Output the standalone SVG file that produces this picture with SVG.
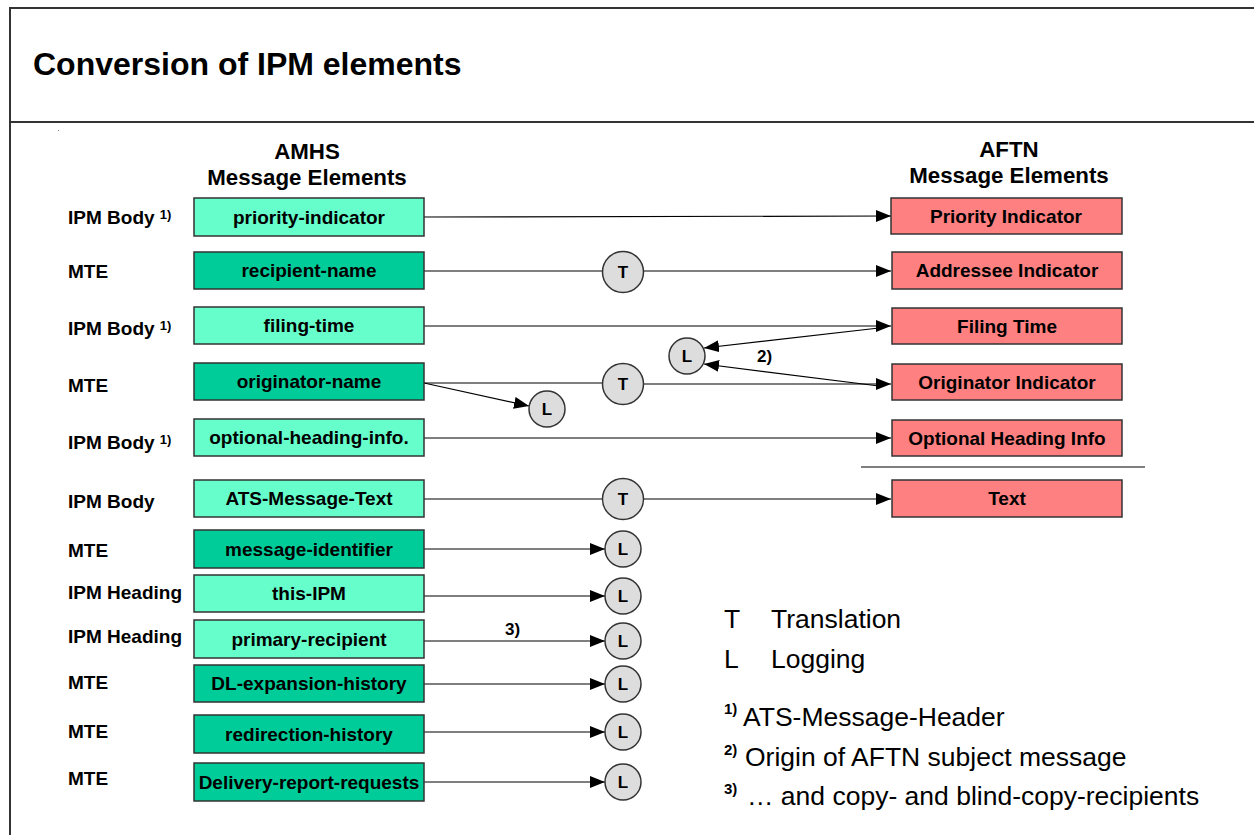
<svg xmlns="http://www.w3.org/2000/svg" width="1254" height="835" viewBox="0 0 1254 835">
<style>
.b{font-family:"Liberation Sans",Arial,sans-serif;font-weight:bold;fill:#000}
.n{font-family:"Liberation Sans",Arial,sans-serif;fill:#000}
.lab{font-size:19px}
.box{stroke:#333;stroke-width:1.5}
.lt{fill:#66FFCC}
.dk{fill:#00CC99}
.rd{fill:#FF8080}
.c{fill:#DDDDDD;stroke:#333;stroke-width:1.5}
.ln{stroke:#000;stroke-width:1.2;fill:none}
.lg{font-size:26.5px}
</style>
<defs>
<marker id="ah" markerUnits="userSpaceOnUse" markerWidth="16" markerHeight="12" refX="15" refY="6" orient="auto">
<path d="M0,0 L15,6 L0,12 Z" fill="#000"/>
</marker>
</defs>
<rect x="0" y="0" width="1254" height="835" fill="#fff"/>
<rect x="10" y="8" width="1260" height="840" fill="none" stroke="#333" stroke-width="2"/>
<line x1="10" y1="122" x2="1254" y2="122" stroke="#333" stroke-width="2"/>
<text class="b" x="33" y="75" font-size="32">Conversion of IPM elements</text>
<rect x="58" y="130" width="1" height="1" fill="#888"/>

<text class="b" x="307" y="159" font-size="22.3" text-anchor="middle">AMHS</text>
<text class="b" x="307" y="185" font-size="22.3" text-anchor="middle">Message Elements</text>
<text class="b" x="1009" y="157" font-size="22.3" text-anchor="middle">AFTN</text>
<text class="b" x="1009" y="183" font-size="22.3" text-anchor="middle">Message Elements</text>

<g id="row-labels" class="b lab">
<text x="68" y="224">IPM Body <tspan font-size="13" dy="-5">1)</tspan></text>
<text x="68" y="278">MTE</text>
<text x="68" y="335">IPM Body <tspan font-size="13" dy="-5">1)</tspan></text>
<text x="68" y="392">MTE</text>
<text x="68" y="449">IPM Body <tspan font-size="13" dy="-5">1)</tspan></text>
<text x="68" y="508">IPM Body</text>
<text x="68" y="557">MTE</text>
<text x="68" y="599">IPM Heading</text>
<text x="68" y="643">IPM Heading</text>
<text x="68" y="689">MTE</text>
<text x="68" y="738">MTE</text>
<text x="68" y="785">MTE</text>
</g>

<g id="connectors">
<line class="ln" x1="424" y1="217" x2="891" y2="216" marker-end="url(#ah)"/>
<line class="ln" x1="424" y1="271" x2="602" y2="271"/>
<line class="ln" x1="644" y1="271" x2="891" y2="271" marker-end="url(#ah)"/>
<line class="ln" x1="424" y1="326" x2="891" y2="326" marker-end="url(#ah)"/>
<line class="ln" x1="879" y1="328" x2="704" y2="348" marker-end="url(#ah)"/>
<line class="ln" x1="879" y1="386" x2="704" y2="364" marker-end="url(#ah)"/>
<line class="ln" x1="424" y1="383" x2="602" y2="383"/>
<line class="ln" x1="644" y1="384" x2="891" y2="384" marker-end="url(#ah)"/>
<line class="ln" x1="424" y1="383" x2="529" y2="406" marker-end="url(#ah)"/>
<line class="ln" x1="424" y1="438" x2="891" y2="438" marker-end="url(#ah)"/>
<line class="ln" x1="424" y1="499" x2="602" y2="499"/>
<line class="ln" x1="644" y1="499" x2="891" y2="499" marker-end="url(#ah)"/>
<line class="ln" x1="424" y1="549" x2="605" y2="549" marker-end="url(#ah)"/>
<line class="ln" x1="424" y1="596" x2="605" y2="596" marker-end="url(#ah)"/>
<line class="ln" x1="424" y1="641" x2="605" y2="641" marker-end="url(#ah)"/>
<line class="ln" x1="424" y1="684" x2="605" y2="684" marker-end="url(#ah)"/>
<line class="ln" x1="424" y1="732" x2="605" y2="732" marker-end="url(#ah)"/>
<line class="ln" x1="424" y1="782" x2="605" y2="782" marker-end="url(#ah)"/>
<text class="b" x="757" y="362" font-size="17">2)</text>
<text class="b" x="505" y="635" font-size="17">3)</text>
</g>
<line x1="861" y1="467" x2="1145" y2="467" stroke="#555" stroke-width="1.5"/>

<g id="n-priority-indicator"><rect class="box lt" x="194" y="198" width="230" height="38"/><text class="b lab" x="309" y="224" text-anchor="middle">priority-indicator</text></g>
<g id="n-recipient-name"><rect class="box dk" x="194" y="252" width="230" height="37"/><text class="b lab" x="309" y="277" text-anchor="middle">recipient-name</text></g>
<g id="n-filing-time"><rect class="box lt" x="194" y="307" width="230" height="37"/><text class="b lab" x="309" y="332" text-anchor="middle">filing-time</text></g>
<g id="n-originator-name"><rect class="box dk" x="194" y="363" width="230" height="37"/><text class="b lab" x="309" y="388" text-anchor="middle">originator-name</text></g>
<g id="n-optional-heading-info"><rect class="box lt" x="194" y="419" width="230" height="37"/><text class="b lab" x="309" y="444" text-anchor="middle">optional-heading-info.</text></g>
<g id="n-ats-message-text"><rect class="box lt" x="194" y="480" width="230" height="37"/><text class="b lab" x="309" y="505" text-anchor="middle">ATS-Message-Text</text></g>
<g id="n-message-identifier"><rect class="box dk" x="194" y="530" width="230" height="38"/><text class="b lab" x="309" y="556" text-anchor="middle">message-identifier</text></g>
<g id="n-this-ipm"><rect class="box lt" x="194" y="575" width="230" height="37"/><text class="b lab" x="309" y="600" text-anchor="middle">this-IPM</text></g>
<g id="n-primary-recipient"><rect class="box lt" x="194" y="620" width="230" height="38"/><text class="b lab" x="309" y="646" text-anchor="middle">primary-recipient</text></g>
<g id="n-dl-expansion-history"><rect class="box dk" x="194" y="665" width="230" height="37"/><text class="b lab" x="309" y="690" text-anchor="middle">DL-expansion-history</text></g>
<g id="n-redirection-history"><rect class="box dk" x="194" y="715" width="230" height="38"/><text class="b lab" x="309" y="741" text-anchor="middle">redirection-history</text></g>
<g id="n-delivery-report-requests"><rect class="box dk" x="194" y="763" width="230" height="38"/><text class="b lab" x="309" y="789" text-anchor="middle">Delivery-report-requests</text></g>

<g id="n-priority-indicator-aftn"><rect class="box rd" x="891" y="198" width="231" height="36"/><text class="b lab" x="1006" y="223" text-anchor="middle">Priority Indicator</text></g>
<g id="n-addressee-indicator"><rect class="box rd" x="892" y="252" width="230" height="37"/><text class="b lab" x="1007" y="277" text-anchor="middle">Addressee Indicator</text></g>
<g id="n-filing-time-aftn"><rect class="box rd" x="892" y="308" width="230" height="36"/><text class="b lab" x="1007" y="333" text-anchor="middle">Filing Time</text></g>
<g id="n-originator-indicator"><rect class="box rd" x="892" y="364" width="230" height="36"/><text class="b lab" x="1007" y="389" text-anchor="middle">Originator Indicator</text></g>
<g id="n-optional-heading-info-aftn"><rect class="box rd" x="892" y="420" width="230" height="36"/><text class="b lab" x="1007" y="445" text-anchor="middle">Optional Heading Info</text></g>
<g id="n-text"><rect class="box rd" x="892" y="480" width="230" height="37"/><text class="b lab" x="1007" y="505" text-anchor="middle">Text</text></g>

<g id="c-t1"><circle class="c" cx="623" cy="272" r="20.5"/><text class="b" x="623" y="278" font-size="17" text-anchor="middle">T</text></g>
<g id="c-t2"><circle class="c" cx="623" cy="384" r="20.5"/><text class="b" x="623" y="390" font-size="17" text-anchor="middle">T</text></g>
<g id="c-t3"><circle class="c" cx="623" cy="499" r="20.5"/><text class="b" x="623" y="505" font-size="17" text-anchor="middle">T</text></g>
<g id="c-l-origin"><circle class="c" cx="687" cy="356" r="18"/><text class="b" x="687" y="362" font-size="17" text-anchor="middle">L</text></g>
<g id="c-l-orig"><circle class="c" cx="547" cy="409" r="18"/><text class="b" x="547" y="415" font-size="17" text-anchor="middle">L</text></g>
<g id="c-l1"><circle class="c" cx="623" cy="549" r="18"/><text class="b" x="623" y="555" font-size="17" text-anchor="middle">L</text></g>
<g id="c-l2"><circle class="c" cx="623" cy="596" r="18"/><text class="b" x="623" y="602" font-size="17" text-anchor="middle">L</text></g>
<g id="c-l3"><circle class="c" cx="623" cy="641" r="18"/><text class="b" x="623" y="647" font-size="17" text-anchor="middle">L</text></g>
<g id="c-l4"><circle class="c" cx="623" cy="684" r="18"/><text class="b" x="623" y="690" font-size="17" text-anchor="middle">L</text></g>
<g id="c-l5"><circle class="c" cx="623" cy="732" r="18"/><text class="b" x="623" y="738" font-size="17" text-anchor="middle">L</text></g>
<g id="c-l6"><circle class="c" cx="623" cy="782" r="18"/><text class="b" x="623" y="788" font-size="17" text-anchor="middle">L</text></g>

<g id="legend" class="n lg">
<text x="724" y="628">T</text><text x="771" y="628">Translation</text>
<text x="724" y="668">L</text><text x="771" y="668">Logging</text>
<text x="743" y="726">ATS-Message-Header</text>
<text x="745" y="766">Origin of AFTN subject message</text>
<text x="747" y="805">… and copy- and blind-copy-recipients</text>
<text class="b" x="724" y="714" font-size="15">1)</text>
<text class="b" x="724" y="755" font-size="15">2)</text>
<text class="b" x="724" y="794" font-size="15">3)</text>
</g>
</svg>
